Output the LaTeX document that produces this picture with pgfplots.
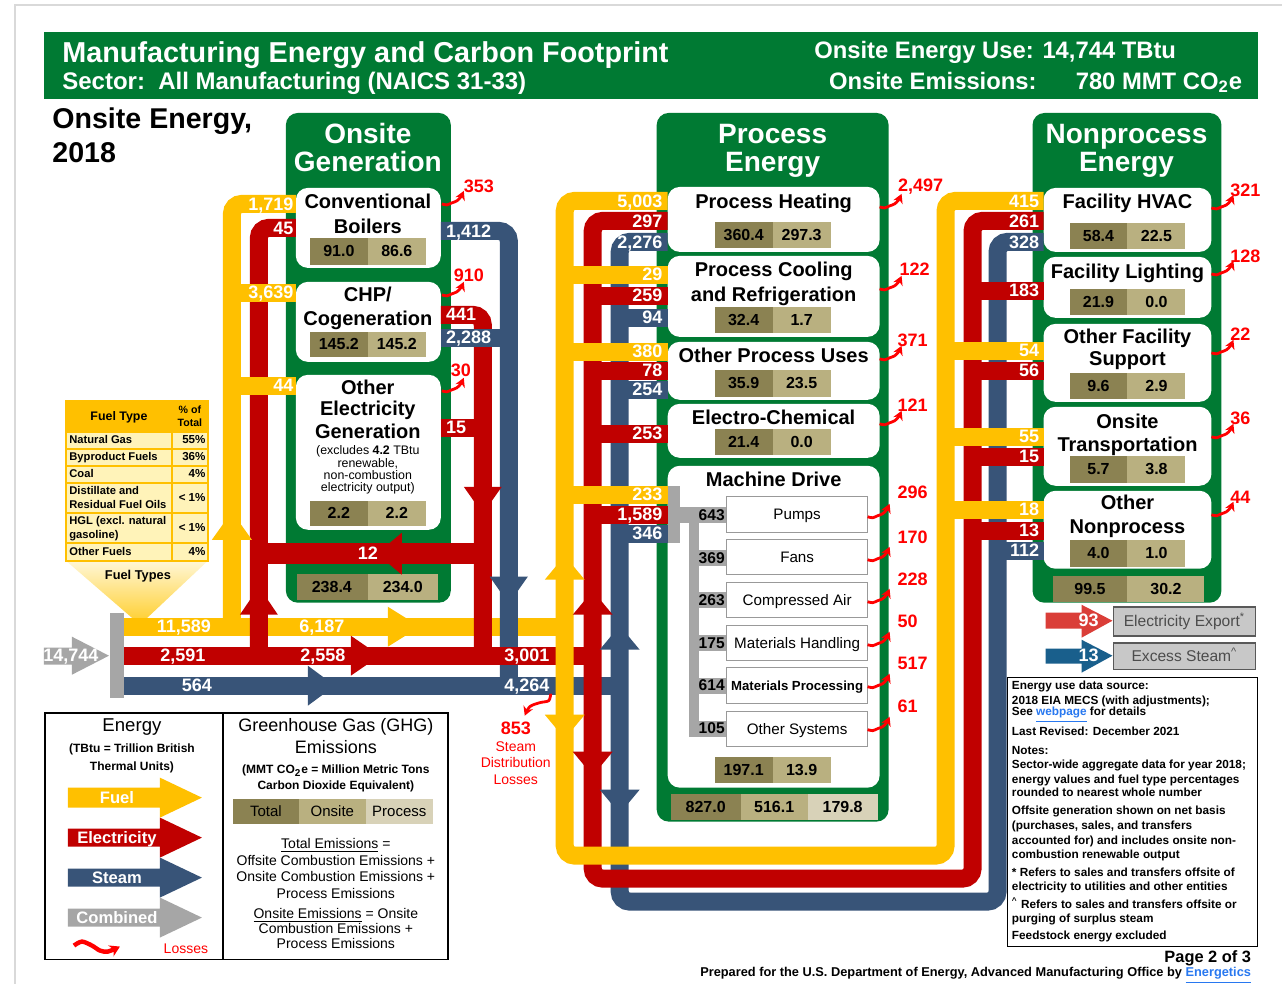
\documentclass[border=0pt]{standalone}
\usepackage{fontspec}
\setmainfont{Liberation Sans}
\usepackage{pgfplots}
\usepackage{pgfplotstable}
\pgfplotsset{compat=1.18}
\usetikzlibrary{arrows.meta}

\definecolor{mgreen}{RGB}{0,122,51}
\definecolor{fuel}{RGB}{255,192,0}
\definecolor{elec}{RGB}{192,0,0}
\definecolor{steam}{RGB}{56,84,120}
\definecolor{comb}{RGB}{166,166,166}
\definecolor{emA}{RGB}{139,130,82}
\definecolor{emB}{RGB}{185,176,128}
\definecolor{emC}{RGB}{216,210,184}
\definecolor{lossred}{RGB}{255,0,0}
\definecolor{expred}{RGB}{218,62,56}
\definecolor{expblue}{RGB}{25,95,140}
\definecolor{boxgray}{RGB}{200,200,200}
\definecolor{tblrow}{RGB}{255,243,185}
\definecolor{funtop}{RGB}{255,247,215}
\definecolor{funbot}{RGB}{255,205,40}
\definecolor{linkblue}{RGB}{40,120,240}

\newcommand{\fz}[1]{\fontsize{#1}{#1}\selectfont}
\newcommand{\rect}[5]{\addplot[#5] coordinates {(#1,#2) (#3,#2) (#3,#4) (#1,#4)} --cycle;}
\newcommand{\flow}[2]{\addplot[#1, line width=9pt, rounded corners=5pt] coordinates {#2};}
\newcommand{\tri}[7]{\addplot[fill=#1, draw=none] coordinates {(#2,#3) (#4,#5) (#6,#7)} --cycle;}
\newcommand{\lab}[4]{\node[flab, anchor=#1] at (axis cs:#2,#3) {#4};}
\newcommand{\txt}[4]{\node[font=#1, inner sep=0pt] at (axis cs:#2,#3) {#4};}
\newcommand{\emO}[5]{\rect{310}{#1}{368}{#2}{fill=emA,draw=none}\rect{368}{#1}{426}{#2}{fill=emB,draw=none}%
  \node[emv] at (axis cs:339,#3) {#4};\node[emv] at (axis cs:397,#3) {#5};}
\newcommand{\emP}[5]{\rect{715}{#1}{773}{#2}{fill=emA,draw=none}\rect{773}{#1}{831}{#2}{fill=emB,draw=none}%
  \node[emv] at (axis cs:744,#3) {#4};\node[emv] at (axis cs:802,#3) {#5};}
\newcommand{\emN}[5]{\rect{1070}{#1}{1128}{#2}{fill=emA,draw=none}\rect{1128}{#1}{1186}{#2}{fill=emB,draw=none}%
  \node[emv] at (axis cs:1099,#3) {#4};\node[emv] at (axis cs:1157,#3) {#5};}
\newcommand{\lossarr}[5]{\addplot[lossl] table[x expr=\thisrow{x}+#1, y expr=\thisrow{y}+#2] {\squig};%
  \node[losst] at (axis cs:#3,#4) {#5};}
\newcommand{\note}[2]{\node[anchor=west, font=\bfseries\fz{5.9pt}, inner sep=0pt] at (axis cs:1012,#1) {#2};}

\tikzset{
  % a strut in the node's own font, so every line is centred the same way
  every node/.append style={execute at begin node={\rule[-0.22em]{0pt}{1.12em}}},
  flab/.style={text=white, font=\bfseries\fz{9pt}, inner sep=0pt},
  emv/.style={font=\bfseries\fz{8pt}, inner sep=0pt},
  losst/.style={text=lossred, font=\bfseries\fz{9pt}, inner sep=0pt},
  lossl/.style={lossred, line width=1.4pt, smooth, -{Stealth[length=4.5pt,width=5pt]}},
}

% shape of the small loss arrow, relative to its start
\pgfplotstableread{
x y
0 1
5 2
10 0
15 -2
19 -6
22 -12
}\squig

\begin{document}
\begin{tikzpicture}
\begin{axis}[width=641.5pt, height=492pt, scale only axis,
  xmin=0, xmax=1283, ymin=0, ymax=984, y dir=reverse,
  hide axis, clip=false]

\rect{0}{0}{1283}{984}{fill=white, draw=none}
\addplot[black!15, line width=0.6pt] coordinates {(15,984) (15,5) (1283,5)};

% ---------- header
\rect{44}{32}{1259}{99}{fill=mgreen, draw=none}
\node[anchor=west, text=white, font=\bfseries\fz{14.4pt}, inner sep=0pt] at (axis cs:62,53) {Manufacturing Energy and Carbon Footprint};
\node[anchor=west, text=white, font=\bfseries\fz{12pt}, inner sep=0pt] at (axis cs:62,81) {Sector:\ \ All Manufacturing (NAICS 31-33)};
\node[anchor=east, text=white, font=\bfseries\fz{11.9pt}, inner sep=0pt] at (axis cs:1177,50) {Onsite Energy Use: 14,744 TBtu};
\node[anchor=west, text=white, font=\bfseries\fz{11.9pt}, inner sep=0pt] at (axis cs:829,81) {Onsite Emissions:};
\node[anchor=east, text=white, font=\bfseries\fz{11.9pt}, inner sep=0pt] at (axis cs:1243,81) {780 MMT CO\textsubscript{2}e};
\node[anchor=west, font=\bfseries\fz{14.3pt}, inner sep=0pt] at (axis cs:52,119) {Onsite Energy,};
\node[anchor=west, font=\bfseries\fz{14.3pt}, inner sep=0pt] at (axis cs:52,153) {2018};

% ---------- fuel type table
\addplot[draw=none, top color=funtop, bottom color=funbot] coordinates {(66,561) (208,561) (140,625)} --cycle;
\rect{66}{401}{208}{561}{fill=tblrow, draw=fuel, line width=0.8pt}
\rect{66}{401}{208}{432}{fill=fuel, draw=fuel, line width=0.8pt}
\addplot[fuel, line width=0.8pt] coordinates {(66,449) (208,449)};
\addplot[fuel, line width=0.8pt] coordinates {(66,466) (208,466)};
\addplot[fuel, line width=0.8pt] coordinates {(66,483) (208,483)};
\addplot[fuel, line width=0.8pt] coordinates {(66,513) (208,513)};
\addplot[fuel, line width=0.8pt] coordinates {(66,543) (208,543)};
\addplot[fuel, line width=0.8pt] coordinates {(172,401) (172,561)};
\txt{\bfseries\fz{6.2pt}}{119}{416}{Fuel Type}
\txt{\bfseries\fz{5.3pt}}{190}{410}{\% of}
\txt{\bfseries\fz{5.3pt}}{190}{423}{Total}
\node[anchor=west, font=\bfseries\fz{5.6pt}, inner sep=0pt] at (axis cs:69,440) {Natural Gas};
\node[anchor=west, font=\bfseries\fz{5.6pt}, inner sep=0pt] at (axis cs:69,457) {Byproduct Fuels};
\node[anchor=west, font=\bfseries\fz{5.6pt}, inner sep=0pt] at (axis cs:69,474) {Coal};
\node[anchor=west, font=\bfseries\fz{5.6pt}, inner sep=0pt] at (axis cs:69,491) {Distillate and};
\node[anchor=west, font=\bfseries\fz{5.6pt}, inner sep=0pt] at (axis cs:69,505) {Residual Fuel Oils};
\node[anchor=west, font=\bfseries\fz{5.6pt}, inner sep=0pt] at (axis cs:69,521) {HGL (excl. natural};
\node[anchor=west, font=\bfseries\fz{5.6pt}, inner sep=0pt] at (axis cs:69,535) {gasoline)};
\node[anchor=west, font=\bfseries\fz{5.6pt}, inner sep=0pt] at (axis cs:69,552) {Other Fuels};
\node[anchor=east, font=\bfseries\fz{5.8pt}, inner sep=0pt] at (axis cs:206,440) {55\%};
\node[anchor=east, font=\bfseries\fz{5.8pt}, inner sep=0pt] at (axis cs:206,457) {36\%};
\node[anchor=east, font=\bfseries\fz{5.8pt}, inner sep=0pt] at (axis cs:206,474) {4\%};
\node[anchor=east, font=\bfseries\fz{5.8pt}, inner sep=0pt] at (axis cs:206,498) {< 1\%};
\node[anchor=east, font=\bfseries\fz{5.8pt}, inner sep=0pt] at (axis cs:206,528) {< 1\%};
\node[anchor=east, font=\bfseries\fz{5.8pt}, inner sep=0pt] at (axis cs:206,552) {4\%};
\txt{\bfseries\fz{6.4pt}}{138}{575}{Fuel Types}

% ---------- panels
\rect{286}{113}{451}{603}{fill=mgreen, draw=none, rounded corners=6pt}
\rect{657}{113}{889}{822}{fill=mgreen, draw=none, rounded corners=6pt}
\rect{1033}{113}{1222}{603}{fill=mgreen, draw=none, rounded corners=6pt}
\txt{\bfseries\fz{14pt}\color{white}}{368}{134}{Onsite}
\txt{\bfseries\fz{14pt}\color{white}}{368}{162}{Generation}
\txt{\bfseries\fz{14pt}\color{white}}{773}{134}{Process}
\txt{\bfseries\fz{14pt}\color{white}}{773}{162}{Energy}
\txt{\bfseries\fz{14pt}\color{white}}{1127}{134}{Nonprocess}
\txt{\bfseries\fz{14pt}\color{white}}{1127}{162}{Energy}

% white boxes
\rect{296}{188}{441}{268}{fill=white, draw=none, rounded corners=6pt}
\rect{296}{282}{441}{362}{fill=white, draw=none, rounded corners=6pt}
\rect{296}{375}{441}{530}{fill=white, draw=none, rounded corners=6pt}
\rect{668}{187}{880}{252}{fill=white, draw=none, rounded corners=6pt}
\rect{668}{256}{880}{337}{fill=white, draw=none, rounded corners=6pt}
\rect{668}{342}{880}{400}{fill=white, draw=none, rounded corners=6pt}
\rect{668}{404}{880}{458}{fill=white, draw=none, rounded corners=6pt}
\rect{668}{466}{880}{788}{fill=white, draw=none, rounded corners=6pt}
\rect{1044}{188}{1212}{252}{fill=white, draw=none, rounded corners=6pt}
\rect{1044}{257}{1212}{318}{fill=white, draw=none, rounded corners=6pt}
\rect{1044}{324}{1212}{402}{fill=white, draw=none, rounded corners=6pt}
\rect{1044}{407}{1212}{486}{fill=white, draw=none, rounded corners=6pt}
\rect{1044}{491}{1212}{569}{fill=white, draw=none, rounded corners=6pt}

% onsite generation boxes
\txt{\bfseries\fz{10pt}}{368}{202}{Conventional}
\txt{\bfseries\fz{10pt}}{368}{227}{Boilers}
\emO{238}{265}{251.5}{91.0}{86.6}
\txt{\bfseries\fz{10pt}}{368}{295}{CHP/}
\txt{\bfseries\fz{10pt}}{368}{319}{Cogeneration}
\emO{332}{357}{344.5}{145.2}{145.2}
\txt{\bfseries\fz{10pt}}{368}{388}{Other}
\txt{\bfseries\fz{10pt}}{368}{409}{Electricity}
\txt{\bfseries\fz{10pt}}{368}{432}{Generation}
\txt{\fz{6.2pt}}{368}{450}{(excludes \textbf{4.2} TBtu}
\txt{\fz{6.2pt}}{368}{463}{renewable,}
\txt{\fz{6.2pt}}{368}{476}{non-combustion}
\txt{\fz{6.2pt}}{368}{488}{electricity output)}
\emO{501}{526}{513.5}{2.2}{2.2}
\rect{297}{574}{368}{600}{fill=emA, draw=none}
\rect{368}{574}{438}{600}{fill=emB, draw=none}
\node[emv] at (axis cs:332,587) {238.4};
\node[emv] at (axis cs:403,587) {234.0};

% process boxes
\txt{\bfseries\fz{10pt}}{774}{202}{Process Heating}
\emP{222}{248}{235}{360.4}{297.3}
\txt{\bfseries\fz{10pt}}{774}{270}{Process Cooling}
\txt{\bfseries\fz{10pt}}{774}{295}{and Refrigeration}
\emP{307}{333}{320}{32.4}{1.7}
\txt{\bfseries\fz{10pt}}{774}{356}{Other Process Uses}
\emP{370}{397}{383.5}{35.9}{23.5}
\txt{\bfseries\fz{10pt}}{774}{418}{Electro-Chemical}
\emP{429}{455}{442}{21.4}{0.0}
\txt{\bfseries\fz{10pt}}{774}{480}{Machine Drive}
\emP{757}{783}{770}{197.1}{13.9}
\rect{671}{794}{741}{820}{fill=emA, draw=none}
\rect{741}{794}{808}{820}{fill=emB, draw=none}
\rect{808}{794}{878}{820}{fill=emC, draw=none}
\node[emv] at (axis cs:706,807) {827.0};
\node[emv] at (axis cs:774.5,807) {516.1};
\node[emv] at (axis cs:843,807) {179.8};

% nonprocess boxes
\txt{\bfseries\fz{10pt}}{1128}{202}{Facility HVAC}
\emN{223}{249}{236}{58.4}{22.5}
\txt{\bfseries\fz{10pt}}{1128}{272}{Facility Lighting}
\emN{289}{315}{302}{21.9}{0.0}
\txt{\bfseries\fz{10pt}}{1128}{337}{Other Facility}
\txt{\bfseries\fz{10pt}}{1128}{359}{Support}
\emN{373}{399}{386}{9.6}{2.9}
\txt{\bfseries\fz{10pt}}{1128}{422}{Onsite}
\txt{\bfseries\fz{10pt}}{1128}{445}{Transportation}
\emN{456}{483}{469.5}{5.7}{3.8}
\txt{\bfseries\fz{10pt}}{1128}{503}{Other}
\txt{\bfseries\fz{10pt}}{1128}{527}{Nonprocess}
\emN{540}{567}{553.5}{4.0}{1.0}
\rect{1053}{576}{1128}{602}{fill=emA, draw=none}
\rect{1128}{576}{1205}{602}{fill=emB, draw=none}
\node[emv] at (axis cs:1090.5,589) {99.5};
\node[emv] at (axis cs:1166.5,589) {30.2};

% ---------- flows
\flow{fuel}{(124,627) (565,627)}
\flow{fuel}{(296,204) (232,204) (232,627)}
\flow{elec}{(296,228) (259,228) (259,656)}
\flow{fuel}{(232,293) (296,293)}
\flow{fuel}{(232,386) (296,386)}
\flow{elec}{(441,315) (483,315) (483,656)}
\flow{elec}{(441,428) (483,428)}
\addplot[elec, line width=10.5pt] coordinates {(483,554) (259,554)};
\flow{steam}{(441,231) (509,231) (509,686)}
\flow{steam}{(441,338) (509,338)}
\flow{elec}{(124,656) (593,656)}
\flow{steam}{(124,686) (620,686)}
\flow{steam}{(668,242) (620,242) (620,902) (998,902) (998,242) (1044,242)}
\flow{elec}{(668,221) (593,221) (593,879) (973,879) (973,221) (1044,221)}
\flow{fuel}{(668,201) (565,201) (565,856) (946,856) (946,201) (1044,201)}
% process branches
\flow{fuel}{(565,275) (668,275)}
\flow{fuel}{(565,352) (668,352)}
\flow{fuel}{(565,495) (668,495)}
\flow{elec}{(593,296) (668,296)}
\flow{elec}{(593,371) (668,371)}
\flow{elec}{(593,434) (668,434)}
\flow{elec}{(593,515) (668,515)}
\flow{steam}{(620,318) (668,318)}
\flow{steam}{(620,390) (668,390)}
\flow{steam}{(620,534) (668,534)}
% nonprocess branches
\flow{fuel}{(946,351) (1044,351)}
\flow{fuel}{(946,437) (1044,437)}
\flow{fuel}{(946,510) (1044,510)}
\flow{elec}{(973,291) (1044,291)}
\flow{elec}{(973,371) (1044,371)}
\flow{elec}{(973,457) (1044,457)}
\flow{elec}{(973,531) (1044,531)}
\flow{steam}{(998,551) (1044,551)}

% arrowheads
\tri{fuel}{388}{607}{420}{627}{388}{647}
\tri{elec}{351}{636}{380}{656}{351}{676}
\tri{steam}{308}{666}{335}{686}{308}{706}
\tri{fuel}{212}{540}{232}{512}{252}{540}
\tri{elec}{240}{615}{259}{587}{278}{615}
\tri{elec}{402}{533}{377}{554}{402}{575}
\tri{elec}{464}{487}{483}{514}{502}{487}
\tri{steam}{490}{577}{509}{604}{528}{577}
\tri{fuel}{545}{580}{565}{556}{585}{580}
\tri{elec}{573}{615}{593}{591}{613}{615}
\tri{steam}{600}{650}{620}{626}{640}{650}
\tri{fuel}{545}{715}{565}{739}{585}{715}
\tri{elec}{573}{752}{593}{776}{613}{752}
\tri{steam}{600}{790}{620}{814}{640}{790}

% combined input
\rect{110}{613}{124}{698}{fill=comb, draw=none}
\addplot[fill=comb, draw=none] coordinates {(44,648) (72,648) (72,637) (109,656) (72,675) (72,665) (44,665)} --cycle;

% machine drive connector and end uses
\rect{668}{486}{680}{543}{fill=comb, draw=none}
\rect{679}{507}{699}{523}{fill=comb, draw=none}
\rect{689}{507}{699}{737}{fill=comb, draw=none}
\rect{699}{507}{727}{523}{fill=comb, draw=none}
\rect{699}{550}{727}{566}{fill=comb, draw=none}
\rect{699}{592}{727}{608}{fill=comb, draw=none}
\rect{699}{635}{727}{651}{fill=comb, draw=none}
\rect{699}{678}{727}{694}{fill=comb, draw=none}
\rect{699}{721}{727}{737}{fill=comb, draw=none}
\rect{727}{497}{868}{533}{fill=white, draw=black!40, line width=0.7pt}
\rect{727}{540}{868}{575}{fill=white, draw=black!40, line width=0.7pt}
\rect{727}{583}{868}{618}{fill=white, draw=black!40, line width=0.7pt}
\rect{727}{626}{868}{661}{fill=white, draw=black!40, line width=0.7pt}
\rect{727}{668}{868}{704}{fill=white, draw=black!40, line width=0.7pt}
\rect{727}{712}{868}{747}{fill=white, draw=black!40, line width=0.7pt}
\txt{\fz{7.6pt}}{797.5}{515}{Pumps}
\txt{\fz{7.6pt}}{797.5}{557.5}{Fans}
\txt{\fz{7.6pt}}{797.5}{600.5}{Compressed Air}
\txt{\fz{7.6pt}}{797.5}{643.5}{Materials Handling}
\txt{\bfseries\fz{6.6pt}}{797.5}{686}{Materials Processing}
\txt{\fz{7.6pt}}{797.5}{729.5}{Other Systems}
\txt{\bfseries\fz{7.8pt}}{712}{515}{643}
\txt{\bfseries\fz{7.8pt}}{712}{558}{369}
\txt{\bfseries\fz{7.8pt}}{712}{600}{263}
\txt{\bfseries\fz{7.8pt}}{712}{643}{175}
\txt{\bfseries\fz{7.8pt}}{712}{686}{614}
\txt{\bfseries\fz{7.8pt}}{712}{729}{105}

% ---------- flow labels
\lab{east}{294}{204}{1,719}
\lab{east}{294}{228}{45}
\lab{east}{294}{293}{3,639}
\lab{east}{294}{386}{44}
\lab{west}{446}{231}{1,412}
\lab{west}{446}{315}{441}
\lab{west}{446}{338}{2,288}
\lab{west}{446}{428}{15}
\lab{center}{368}{554}{12}
\lab{center}{184}{627}{11,589}
\lab{center}{322}{627}{6,187}
\lab{center}{183}{656}{2,591}
\lab{center}{323}{656}{2,558}
\lab{center}{527}{656}{3,001}
\lab{center}{197}{686}{564}
\lab{center}{527}{686}{4,264}
\lab{center}{71}{656}{14,744}
\lab{east}{663}{201}{5,003}
\lab{east}{663}{221}{297}
\lab{east}{663}{242}{2,276}
\lab{east}{663}{275}{29}
\lab{east}{663}{296}{259}
\lab{east}{663}{318}{94}
\lab{east}{663}{352}{380}
\lab{east}{663}{371}{78}
\lab{east}{663}{390}{254}
\lab{east}{663}{434}{253}
\lab{east}{663}{495}{233}
\lab{east}{663}{515}{1,589}
\lab{east}{663}{534}{346}
\lab{east}{1040}{201}{415}
\lab{east}{1040}{221}{261}
\lab{east}{1040}{242}{328}
\lab{east}{1040}{291}{183}
\lab{east}{1040}{351}{54}
\lab{east}{1040}{371}{56}
\lab{east}{1040}{437}{55}
\lab{east}{1040}{457}{15}
\lab{east}{1040}{510}{18}
\lab{east}{1040}{531}{13}
\lab{east}{1040}{551}{112}

% ---------- losses
\lossarr{442}{203}{479}{186}{353}
\lossarr{442}{294}{469}{276}{910}
\lossarr{442}{390}{461}{371}{30}
\lossarr{880}{206}{921}{185}{2,497}
\lossarr{880}{288}{915}{270}{122}
\lossarr{880}{358}{913}{341}{371}
\lossarr{880}{423}{913}{406}{121}
\lossarr{868}{516}{913}{493}{296}
\lossarr{868}{559}{913}{538}{170}
\lossarr{868}{601}{913}{580}{228}
\lossarr{868}{644}{908}{622}{50}
\lossarr{868}{686}{913}{664}{517}
\lossarr{868}{729}{908}{707}{61}
\lossarr{1212}{207}{1246}{190}{321}
\lossarr{1212}{273}{1246}{257}{128}
\lossarr{1212}{352}{1241}{335}{22}
\lossarr{1212}{436}{1241}{419}{36}
\lossarr{1212}{514}{1241}{498}{44}
\addplot[lossl] coordinates {(551,694) (549,701) (540,703) (530,707) (525,716)};
\txt{\bfseries\fz{9pt}\color{lossred}}{516}{729}{853}
\txt{\fz{7pt}\color{lossred}}{516}{747}{Steam}
\txt{\fz{7pt}\color{lossred}}{516}{763}{Distribution}
\txt{\fz{7pt}\color{lossred}}{516}{780}{Losses}

% ---------- export arrows
\addplot[fill=expred, draw=none] coordinates {(1046,613) (1082,613) (1082,605) (1113,621) (1082,638) (1082,629) (1046,629)} --cycle;
\addplot[fill=expblue, draw=none] coordinates {(1046,649) (1082,649) (1082,640) (1113,656) (1082,673) (1082,664) (1046,664)} --cycle;
\lab{center}{1089}{621}{93}
\lab{center}{1089}{656}{13}
\rect{1114}{607}{1256}{636}{fill=boxgray, draw=black!65, line width=0.8pt}
\rect{1114}{643}{1256}{670}{fill=boxgray, draw=black!65, line width=0.8pt}
\txt{\fz{7.8pt}\color{black!70}}{1185}{621}{Electricity Export\textsuperscript{*}}
\txt{\fz{7.8pt}\color{black!70}}{1185}{656}{Excess Steam\textsuperscript{\textasciicircum}}

% ---------- notes
\rect{1008}{678}{1258}{947}{fill=none, draw=black, line width=0.8pt}
\note{686}{Energy use data source:}
\note{701}{2018 EIA MECS (with adjustments);}
\note{714}{See \textcolor{linkblue}{\underline{webpage}} for details}
\note{732}{Last Revised: December 2021}
\note{751}{Notes:}
\note{765}{Sector-wide aggregate data for year 2018;}
\note{780}{energy values and fuel type percentages}
\note{793}{rounded to nearest whole number}
\note{811}{Offsite generation shown on net basis}
\note{826}{(purchases, sales, and transfers}
\note{841}{accounted for) and includes onsite non-}
\note{855}{combustion renewable output}
\note{873}{* Refers to sales and transfers offsite of}
\note{887}{electricity to utilities and other entities}
\note{905}{\textsuperscript{\textasciicircum} Refers to sales and transfers offsite or}
\note{919}{purging of surplus steam}
\note{936}{Feedstock energy excluded}
\node[anchor=east, font=\bfseries\fz{8.2pt}, inner sep=0pt] at (axis cs:1252,957) {Page 2 of 3};
\node[anchor=east, font=\bfseries\fz{6.4pt}, inner sep=0pt] at (axis cs:1252,975) {Prepared for the U.S. Department of Energy, Advanced Manufacturing Office by \textcolor{linkblue}{\underline{Energetics}}};

% ---------- legend
\rect{45}{713}{448}{960}{fill=none, draw=black, line width=0.9pt}
\addplot[black, line width=0.9pt] coordinates {(223,713) (223,960)};
\txt{\fz{9.3pt}}{132}{726}{Energy}
\txt{\bfseries\fz{6pt}}{132}{749}{(TBtu = Trillion British}
\txt{\bfseries\fz{6pt}}{132}{767}{Thermal Units)}
\addplot[fill=fuel, draw=none] coordinates {(68,788) (160,788) (160,778) (202,798) (160,818) (160,808) (68,808)} --cycle;
\addplot[fill=elec, draw=none] coordinates {(68,829) (160,829) (160,818) (202,838) (160,858) (160,847) (68,847)} --cycle;
\addplot[fill=steam, draw=none] coordinates {(68,869) (160,869) (160,858) (202,878) (160,898) (160,887) (68,887)} --cycle;
\addplot[fill=comb, draw=none] coordinates {(68,909) (160,909) (160,898) (202,918) (160,938) (160,927) (68,927)} --cycle;
\txt{\bfseries\fz{8.3pt}\color{white}}{117}{798}{Fuel}
\txt{\bfseries\fz{8.3pt}\color{white}}{117}{838}{Electricity}
\txt{\bfseries\fz{8.3pt}\color{white}}{117}{878}{Steam}
\txt{\bfseries\fz{8.3pt}\color{white}}{117}{918}{Combined}
\addplot[lossred, line width=2.2pt, smooth, -{Stealth[length=5pt,width=6pt]}] coordinates {(74,946) (82,942) (92,946) (100,951) (108,952) (120,947)};
\txt{\fz{7pt}\color{lossred}}{186}{949}{Losses}
\txt{\fz{9pt}}{336}{726}{Greenhouse Gas (GHG)}
\txt{\fz{9pt}}{336}{748}{Emissions}
\txt{\bfseries\fz{6pt}}{336}{770}{(MMT CO\textsubscript{2}e = Million Metric Tons}
\txt{\bfseries\fz{6pt}}{336}{786}{Carbon Dioxide Equivalent)}
\rect{233}{799}{299}{824}{fill=emA, draw=none}
\rect{299}{799}{366}{824}{fill=emB, draw=none}
\rect{366}{799}{433}{824}{fill=emC, draw=none}
\txt{\fz{7.5pt}}{266}{811.5}{Total}
\txt{\fz{7.5pt}}{332.5}{811.5}{Onsite}
\txt{\fz{7.5pt}}{399.5}{811.5}{Process}
\txt{\fz{7pt}}{336}{845}{\underline{Total Emissions} =}
\txt{\fz{7pt}}{336}{861}{Offsite Combustion Emissions +}
\txt{\fz{7pt}}{336}{877}{Onsite Combustion Emissions +}
\txt{\fz{7pt}}{336}{894}{Process Emissions}
\txt{\fz{7pt}}{336}{915}{\underline{Onsite Emissions} = Onsite}
\txt{\fz{7pt}}{336}{929}{Combustion Emissions +}
\txt{\fz{7pt}}{336}{944}{Process Emissions}

\end{axis}
\end{tikzpicture}
\end{document}
